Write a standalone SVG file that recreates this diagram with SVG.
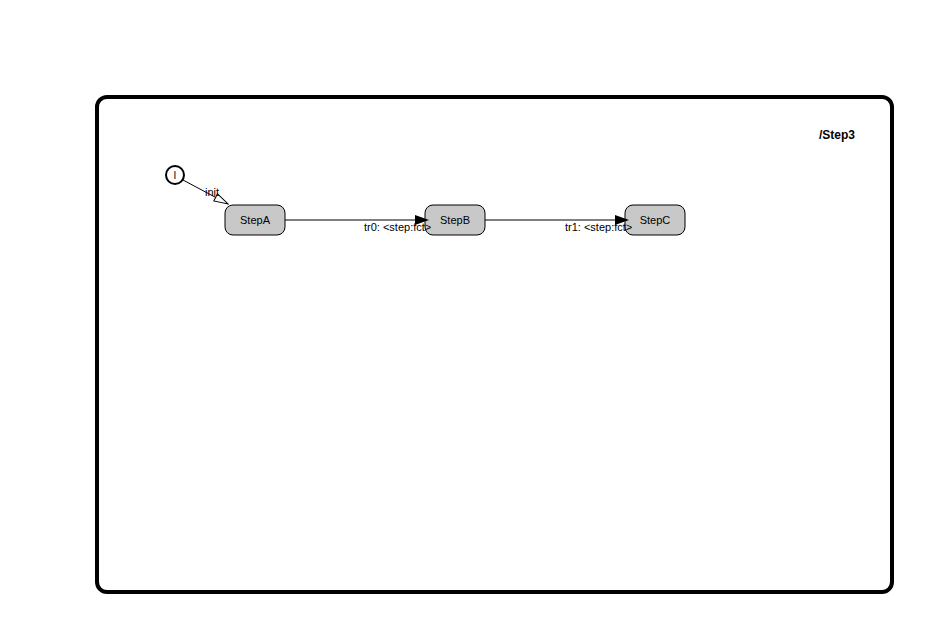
<svg xmlns="http://www.w3.org/2000/svg" width="940" height="640" viewBox="0 0 940 640">
<style>
text{font-family:"Liberation Sans",Arial,sans-serif;font-size:11px;fill:#000}
.step rect{fill:#c8c8c8;stroke:#000;stroke-width:1}
.step text{text-anchor:middle}
.conn{stroke:#000;stroke-width:1;fill:none}
</style>
<defs>
<marker id="filled" markerWidth="14" markerHeight="10" refX="12" refY="5" orient="auto" markerUnits="userSpaceOnUse">
<path d="M0,0 L14,5 L0,10 z" fill="#000"/>
</marker>
<marker id="open" markerWidth="16" markerHeight="10" refX="15" refY="5" orient="auto" markerUnits="userSpaceOnUse">
<path d="M1,1 L15,5 L1,9 z" fill="#fff" stroke="#000" stroke-width="1"/>
</marker>
</defs>
<rect width="940" height="640" fill="#fff"/>
<g id="frame">
<rect x="97" y="97" width="795" height="495" rx="10" fill="none" stroke="#000" stroke-width="4"/>
<text x="819" y="139" style="font-weight:bold;font-size:12px">/Step3</text>
</g>
<g id="initial">
<circle cx="175" cy="175" r="9" fill="#fff" stroke="#000" stroke-width="2"/>
<text x="175" y="179" text-anchor="middle" style="font-size:10px">I</text>
</g>
<g id="StepA" class="step">
<rect x="225" y="205" width="60" height="30" rx="8"/>
<text x="255" y="224">StepA</text>
</g>
<g id="StepB" class="step">
<rect x="425" y="205" width="60" height="30" rx="8"/>
<text x="455" y="224">StepB</text>
</g>
<g id="StepC" class="step">
<rect x="625" y="205" width="60" height="30" rx="8"/>
<text x="655" y="224">StepC</text>
</g>
<g id="connectors">
<line class="conn" x1="183" y1="180" x2="228" y2="204" marker-end="url(#open)"/>
<text x="205" y="196">init</text>
<line class="conn" x1="285" y1="220" x2="427" y2="220" marker-end="url(#filled)"/>
<text x="364" y="231">tr0: &lt;step:fct&gt;</text>
<line class="conn" x1="485" y1="220" x2="627" y2="220" marker-end="url(#filled)"/>
<text x="565" y="231">tr1: &lt;step:fct&gt;</text>
</g>
</svg>
